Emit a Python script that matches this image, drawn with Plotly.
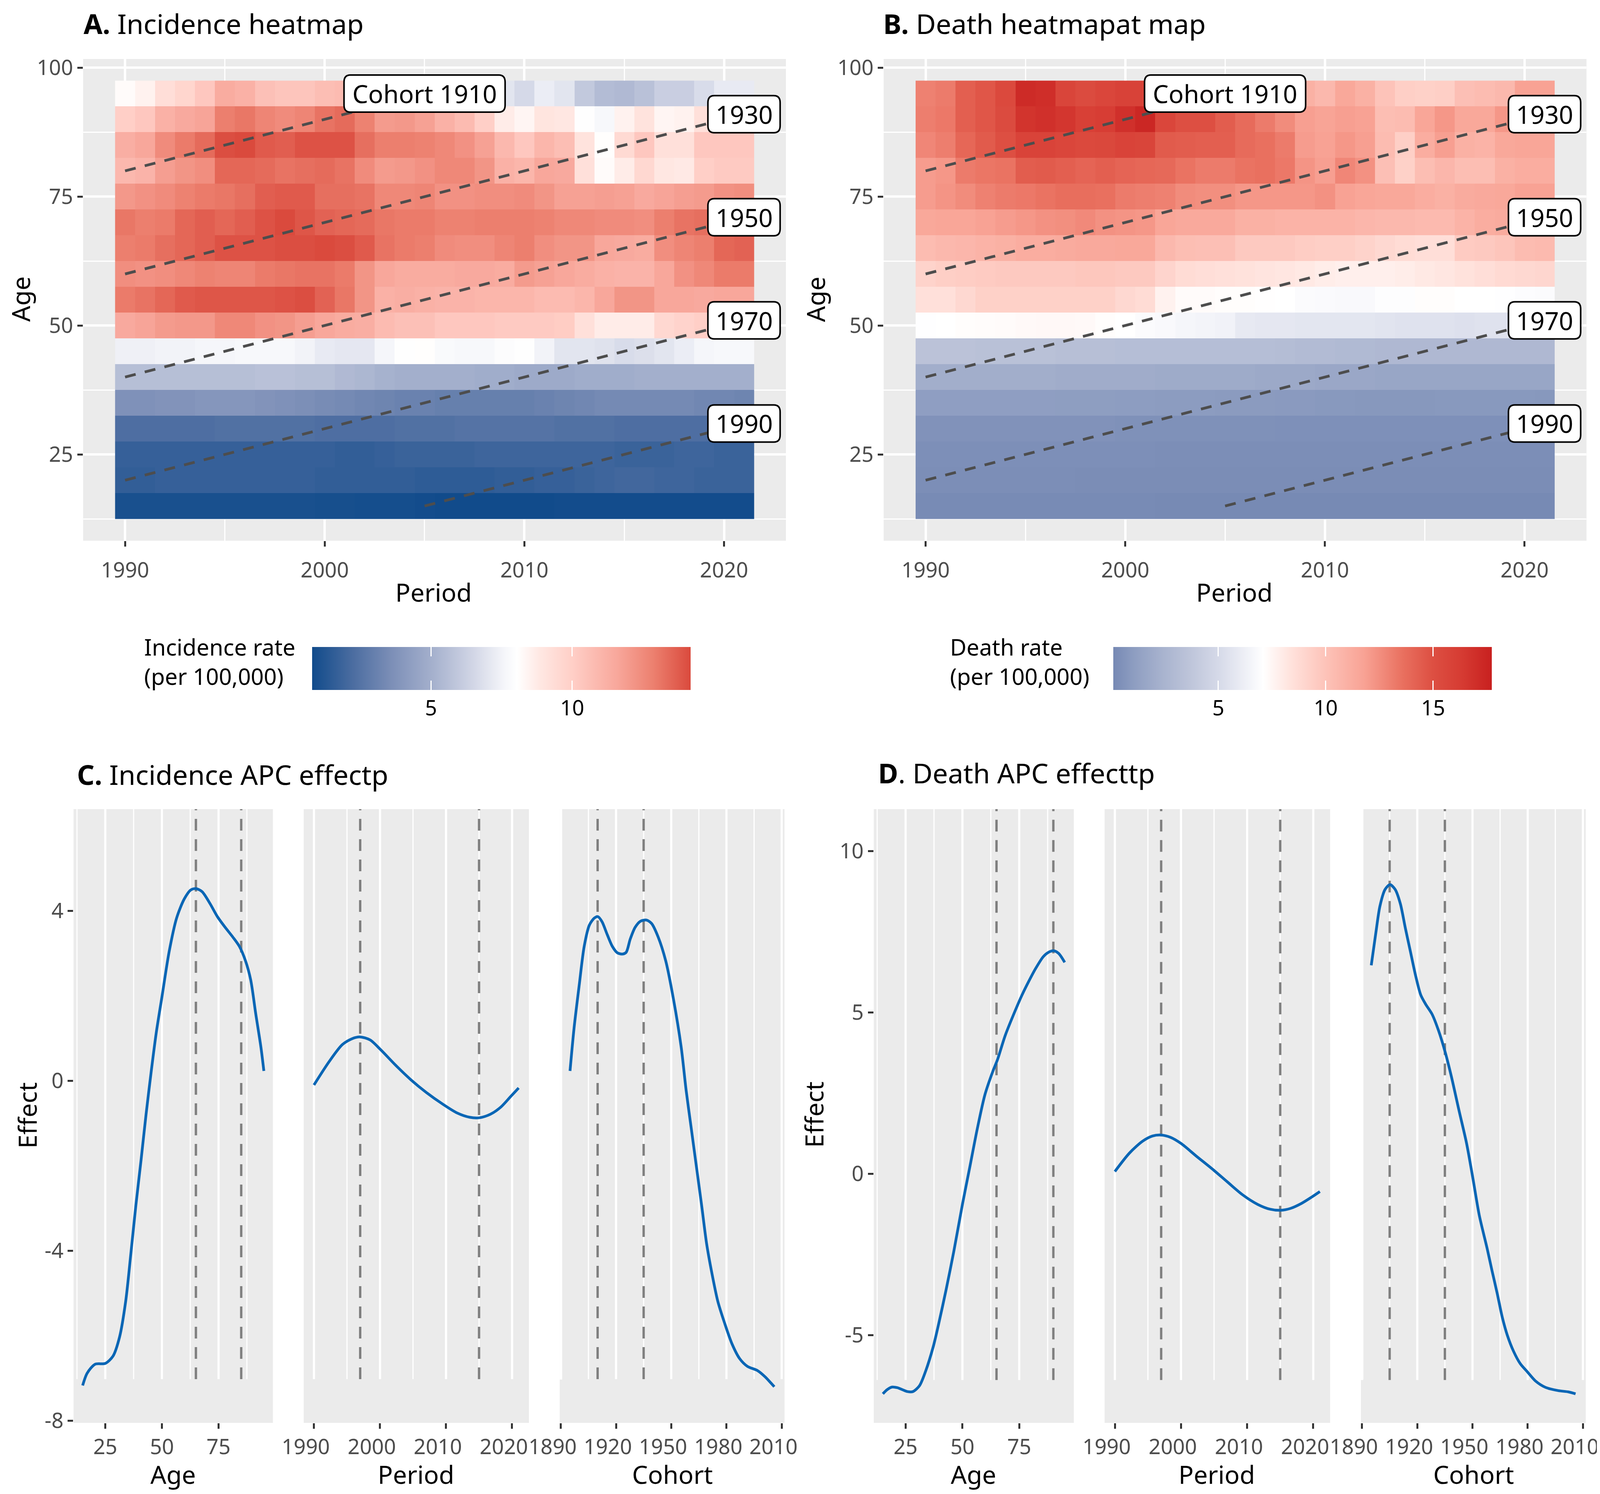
import plotly.graph_objects as go

W, H = 4519, 3824
FONT = "Noto Sans"

# ---------- data ----------
periods = list(range(1990, 2022))
ages = [95, 90, 85, 80, 75, 70, 65, 60, 55, 50, 45, 40, 35, 30, 25, 20, 15]

incidence_rows = [
 [8.2,8.5,9.3,9.7,10.3,11.4,11.2,10.6,10.4,10.4,10.7,10.8,10.8,10.5,10.0,8.5,
  7.6,7.4,7.2,7.0,6.6,7.3,7.0,6.0,5.5,5.4,5.7,6.2,6.2,6.7,7.2,7.2],
 [10.0,10.3,11.2,11.5,11.7,12.9,13.1,12.7,12.5,12.7,13.2,13.4,12.8,12.0,12.1,11.8,
  11.2,10.8,10.0,8.7,8.4,9.0,8.9,8.0,7.7,8.5,9.1,8.4,8.5,9.2,9.2,9.2],
 [11.3,11.6,12.5,13.0,13.4,14.1,14.2,13.8,13.7,14.0,14.0,14.0,13.3,12.9,12.9,12.8,
  12.6,12.3,11.8,10.9,10.3,11.0,10.7,9.1,8.1,9.5,10.3,9.2,9.2,10.3,10.3,10.3],
 [10.9,11.1,11.9,12.2,12.4,13.5,13.5,13.4,13.2,13.3,13.4,13.2,12.5,12.0,12.1,12.3,
  12.6,12.6,12.2,11.2,11.0,11.6,11.5,9.2,8.2,8.7,9.6,8.9,8.8,10.0,10.2,10.2],
 [12.1,12.3,12.5,12.8,13.0,13.1,13.3,13.7,13.8,13.8,13.3,13.3,13.2,12.6,12.6,12.7,
  12.3,12.3,12.4,12.4,12.5,12.2,11.8,11.8,11.9,11.8,11.5,11.7,11.9,12.0,12.3,12.4],
 [13.1,12.9,13.0,13.5,13.7,13.5,13.7,14.0,14.2,13.9,13.6,13.5,13.4,13.1,13.0,13.0,
  12.8,12.8,12.9,12.9,12.9,12.8,12.6,12.6,12.5,12.5,12.4,12.9,13.2,13.3,13.4,13.4],
 [12.9,13.0,13.3,13.5,13.7,14.0,14.0,14.0,14.1,14.1,14.2,14.1,13.8,13.2,13.0,12.9,
  12.5,12.4,12.4,12.7,12.9,12.4,12.2,12.2,11.6,11.5,11.4,12.4,12.7,12.9,13.5,13.6],
 [12.4,12.3,12.4,12.6,12.8,12.7,12.7,13.0,13.1,13.2,13.2,13.0,12.2,11.6,11.4,11.4,
  11.4,11.5,11.5,11.4,12.0,11.8,11.6,11.4,11.2,11.1,11.1,11.6,12.3,12.6,13.0,13.0],
 [13.0,13.2,13.5,13.8,13.9,13.9,13.9,13.9,14.0,14.1,13.6,13.1,12.2,11.2,11.3,11.2,
  11.1,11.1,11.0,11.0,11.0,10.8,10.8,11.0,11.6,12.2,12.2,11.6,11.6,11.5,11.6,11.6],
 [11.5,11.7,12.0,12.1,12.1,12.6,12.6,12.3,12.2,11.9,11.6,11.4,11.3,10.8,10.6,10.6,
  10.3,10.3,10.3,10.2,10.2,10.2,10.1,9.2,8.7,8.7,8.7,9.6,9.8,10.0,10.0,10.2],
 [7.4,7.4,7.5,7.5,7.6,7.6,7.7,7.7,7.7,7.5,7.2,7.1,7.1,7.6,8.0,8.1,
  7.8,7.7,7.7,7.9,8.0,7.5,7.0,7.0,6.9,6.7,6.8,7.0,7.3,7.6,7.7,7.7],
 [5.6,5.6,5.6,5.6,5.6,5.6,5.6,5.7,5.7,5.6,5.6,5.4,5.3,5.1,5.0,5.0,
  5.0,5.0,4.9,4.9,4.8,4.8,4.8,4.9,4.9,4.9,5.0,5.0,5.0,5.0,5.0,5.0],
 [3.7,3.7,3.8,3.8,3.9,3.9,3.9,3.8,3.7,3.6,3.5,3.4,3.3,3.2,3.1,3.1,
  3.0,3.0,3.0,3.0,3.0,3.1,3.2,3.3,3.4,3.4,3.4,3.4,3.4,3.3,3.3,3.2],
 [2.3,2.3,2.3,2.3,2.3,2.4,2.4,2.4,2.4,2.4,2.3,2.3,2.3,2.3,2.4,2.4,
  2.4,2.5,2.5,2.5,2.5,2.5,2.4,2.4,2.4,2.3,2.3,2.3,2.3,2.3,2.3,2.3],
 [1.7,1.7,1.7,1.7,1.7,1.7,1.7,1.7,1.7,1.7,1.7,1.6,1.6,1.7,1.8,1.8,
  1.8,1.8,1.9,1.9,1.9,1.9,1.9,1.9,1.9,1.8,1.8,1.8,1.9,1.9,1.8,1.8],
 [1.6,1.6,1.7,1.7,1.7,1.7,1.7,1.7,1.7,1.7,1.6,1.6,1.6,1.6,1.6,1.5,
  1.5,1.5,1.5,1.6,1.6,1.7,1.7,1.8,1.9,2.0,2.0,1.9,1.9,1.8,1.8,1.8],
 [1.0,1.0,1.0,1.0,1.0,1.0,1.0,1.0,1.0,1.0,.95,.95,.9,.9,.9,.85,
  .8,.8,.8,.8,.8,.8,.85,.85,.85,.85,.85,.85,.85,.85,.85,.85],
]

death_rows = [
 [13.0,13.2,14.3,14.7,15.4,17.2,17.0,15.7,15.3,15.6,15.9,15.9,15.5,15.0,14.4,13.5,
  12.6,11.6,11.0,11.0,10.6,11.5,11.0,10.0,9.4,9.3,9.4,10.2,10.4,10.6,11.8,11.8],
 [13.1,13.3,14.3,14.7,15.3,16.7,16.9,16.6,16.0,16.2,16.9,17.4,15.6,15.0,15.0,14.4,
  13.8,13.2,12.6,11.9,11.7,11.9,11.8,10.3,10.4,11.6,12.2,11.5,11.5,12.2,12.0,12.0],
 [12.8,13.1,14.0,14.5,15.0,15.8,15.8,15.6,15.4,15.5,15.8,15.7,14.5,14.4,14.3,14.3,
  13.8,13.6,13.2,12.0,11.8,12.2,11.9,10.4,9.4,11.2,11.9,11.0,10.9,11.5,11.6,11.6],
 [12.0,12.2,13.2,13.4,13.5,14.4,14.5,14.3,14.1,14.3,14.1,14.0,13.9,13.5,13.2,13.2,
  13.5,13.6,13.3,12.3,11.9,12.8,12.4,10.2,9.3,10.3,10.7,10.3,10.3,11.0,11.2,11.2],
 [12.0,12.3,12.6,13.0,13.2,13.3,13.5,13.7,13.7,13.6,13.2,13.1,13.0,12.6,12.5,12.5,
  12.2,12.2,12.2,12.2,12.4,11.8,11.6,11.5,11.5,11.2,11.0,11.3,11.4,11.5,11.8,11.8],
 [11.5,11.6,11.6,11.8,12.0,12.2,12.4,12.5,12.7,12.4,12.3,12.2,11.6,11.4,11.4,11.4,
  11.0,11.0,10.9,10.9,10.9,10.9,10.7,10.6,10.6,10.5,10.5,10.9,11.2,11.3,11.5,11.5],
 [10.4,10.6,10.7,10.9,11.0,11.2,11.2,11.3,11.4,11.4,11.5,11.5,10.6,10.3,10.2,10.2,
  9.7,9.7,9.7,9.5,9.4,9.4,9.2,8.9,8.7,8.6,8.6,9.6,9.7,9.9,10.4,10.5],
 [9.2,9.4,9.5,9.6,9.7,9.7,9.7,9.7,9.8,9.8,9.7,9.7,9.1,8.7,8.6,8.5,
  8.4,8.3,8.2,8.1,7.9,7.8,7.8,7.8,7.9,8.1,8.2,8.4,8.6,8.8,8.9,9.0],
 [8.5,8.5,8.9,9.3,9.3,9.3,9.3,9.3,9.3,9.3,8.9,8.7,7.7,7.3,7.3,7.2,
  7.2,7.15,7.1,6.9,6.85,6.8,6.8,7.0,7.0,7.2,7.2,7.1,7.1,7.05,6.95,6.9],
 [7.05,7.1,7.2,7.25,7.3,7.35,7.4,7.4,7.35,7.2,7.1,6.9,6.8,6.6,6.5,6.4,
  5.9,5.8,5.8,5.7,5.7,5.7,5.7,5.6,5.5,5.5,5.5,5.4,5.5,5.5,5.6,5.6],
 [3.5,3.5,3.5,3.4,3.4,3.4,3.4,3.3,3.3,3.3,3.2,3.2,3.2,3.2,3.2,3.2,
  3.2,3.2,3.1,3.0,3.0,2.9,2.9,2.8,2.8,2.8,2.8,2.8,2.8,2.8,2.8,2.8],
 [2.1,2.1,2.1,2.1,2.1,2.1,2.1,2.0,2.0,2.0,2.0,2.0,1.9,1.9,1.9,1.9,
  1.9,1.8,1.8,1.8,1.7,1.7,1.7,1.6,1.6,1.6,1.6,1.6,1.6,1.6,1.6,1.6],
 [1.15,1.15,1.15,1.15,1.15,1.15,1.15,1.1,1.1,1.1,1.05,1.05,1.0,1.0,1.0,.95,
  .95,.95,.9,.9,.85,.85,.8,.8,.8,.8,.85,.85,.85,.85,.85,.8],
 [.55,.55,.55,.55,.55,.55,.55,.55,.55,.55,.5,.5,.5,.5,.5,.5,
  .5,.5,.45,.45,.45,.45,.45,.45,.45,.45,.45,.45,.45,.45,.45,.45],
 [.4,.4,.4,.4,.4,.4,.4,.4,.4,.4,.4,.4,.35,.35,.35,.35,
  .35,.35,.35,.35,.35,.35,.35,.35,.35,.35,.35,.35,.35,.35,.35,.35],
 [.35,.35,.35,.35,.35,.35,.35,.35,.3,.3,.3,.3,.3,.3,.3,.3,
  .3,.3,.3,.3,.3,.3,.3,.3,.3,.3,.3,.3,.3,.3,.3,.3],
 [.2,.2,.2,.2,.2,.2,.2,.2,.2,.2,.2,.2,.15,.15,.15,.15,
  .15,.15,.15,.15,.15,.15,.15,.15,.15,.15,.15,.15,.15,.15,.15,.15],
]

incidence_scale_values = [0.79, 2.2, 3.66, 5, 6.5, 7.6, 8.05, 8.85, 10, 11.6, 12.9, 14.2]
incidence_scale_colors = ["#114B8B", "#4A6CA0", "#7E90B8", "#A3AFCC", "#D2D6E6", "#F5F6FA", "#FFFFFF",
                          "#FFE8E3", "#FFCFC7", "#F8A79B", "#EC7F6E", "#DA4A3D"]
death_scale_values = [0.12, 1.0, 2.35, 3.7, 5, 6.5, 7.1, 8.4, 10, 11.8, 13.6, 15, 16.3, 17.74]
death_scale_colors = ["#7689B4", "#8C9CC0", "#A7B2CE", "#BEC5DA", "#D5D9E8", "#F3F4F9", "#FFFFFF",
                      "#FFE2DC", "#FDC3B9", "#F8A294", "#E9705F", "#DD4F42", "#D63C33", "#C8201F"]

cohort_names = [1910, 1930, 1950, 1970, 1990]
cohort_start = [1990, 1990, 1990, 1990, 2005]
cohort_end = [2005, 2021, 2021, 2021, 2021]

c_age_x = [15,17,20.5,25,28.4,31.3,34,36.3,38.5,40.8,43,45.3,47.5,50,53.2,56.5,59.9,62.8,65,67.7,71.2,74.5,77.9,81.3,84.2,86.9,89.2,91.4,93.7,95]
c_age_y = [-7.17,-6.88,-6.67,-6.65,-6.48,-6.03,-5.19,-4.06,-2.93,-1.86,-0.79,0.23,1.13,1.97,3.04,3.83,4.28,4.49,4.52,4.45,4.17,3.86,3.61,3.38,3.16,2.82,2.37,1.58,0.79,0.23]
c_period_x = [1990,1992.3,1994.3,1995.8,1997,1998.5,2000.1,2002.4,2004.7,2007.05,2009.4,2011.7,2013.6,2015.1,2016.7,2018.3,2019.8,2021]
c_period_y = [-0.10,0.45,0.85,0.99,1.03,0.96,0.73,0.36,0.02,-0.28,-0.54,-0.76,-0.86,-0.87,-0.79,-0.62,-0.37,-0.17]
c_cohort_x = [1895,1897.2,1900,1902.7,1905.5,1908.3,1910.2,1912.4,1915.2,1918,1920.7,1923.5,1925.5,1927.7,1930.4,1933.2,1936.5,1939.3,1942.9,1947,1951.2,1955.4,1958.1,1960.9,1963.7,1966.5,1969.2,1972,1975.3,1978.9,1983.1,1987.2,1991.4,1996.9,2001.1,2003.9,2006]
c_cohort_y = [0.23,1.24,2.25,3.16,3.66,3.83,3.86,3.74,3.44,3.16,3.01,2.98,3.02,3.33,3.61,3.75,3.78,3.70,3.38,2.82,1.92,0.79,-0.23,-1.13,-2.03,-2.93,-3.83,-4.51,-5.19,-5.69,-6.2,-6.54,-6.72,-6.82,-6.97,-7.1,-7.2]

d_age_x = [15,16.9,19.1,21.4,23.6,25.9,28.2,31.1,33.8,37.2,39.4,42.8,46.2,50,53.2,56.5,59.9,63.3,65.5,68.9,75.7,78.8,82.2,85.6,87.8,90.1,92.3,95]
d_age_y = [-6.82,-6.69,-6.61,-6.63,-6.69,-6.75,-6.75,-6.57,-6.12,-5.35,-4.7,-3.6,-2.41,-0.95,0.19,1.38,2.45,3.16,3.55,4.3,5.46,5.91,6.36,6.73,6.86,6.91,6.83,6.55]
d_period_x = [1990,1992.2,1994.2,1995.7,1997,1998.4,2000,2002.3,2004.6,2007,2009.3,2011.6,2013.5,2015.1,2016.6,2018.2,2019.7,2021]
d_period_y = [0.07,0.64,1.01,1.17,1.20,1.13,0.94,0.55,0.17,-0.25,-0.65,-0.95,-1.10,-1.13,-1.07,-0.92,-0.73,-0.55]
d_cohort_x = [1895,1897.5,1899.7,1902.5,1905.2,1908,1910.8,1913.5,1916.3,1919.1,1921.9,1924.6,1928,1931.6,1935.2,1938.5,1942.6,1946.8,1950.1,1953.7,1957.9,1960.6,1963.4,1966.2,1968.9,1972.3,1975.9,1980,1984.2,1989.7,1996.6,2002.2,2006]
d_cohort_y = [6.46,7.47,8.29,8.81,8.96,8.81,8.37,7.62,6.88,6.14,5.54,5.25,4.95,4.43,3.76,3.02,1.98,0.94,-0.1,-1.29,-2.3,-3.0,-3.7,-4.45,-5.0,-5.5,-5.88,-6.15,-6.42,-6.62,-6.72,-6.76,-6.82]

c_vlines = [[65, 85], [1997, 2015], [1910, 1935]]
d_vlines = [[65, 90], [1997, 2015], [1905, 1935]]

age_ticks = [25, 50, 75]
age_minor = [12.5, 37.5, 62.5, 87.5]
period_ticks = [1990, 2000, 2010, 2020]
period_minor = [1995, 2005, 2015]
cohort_ticks = [1890, 1920, 1950, 1980, 2010]
cohort_minor = [1905, 1935, 1965, 1995]
c_effect_ticks = [4, 0, -4, -8]
d_effect_ticks = [10, 5, 0, -5]

# ---------- helpers ----------
def fx(p): return p / W
def fy(p): return 1 - p / H

def colorscale(vals, cols):
    lo, hi = vals[0], vals[-1]
    return [[(v - lo) / (hi - lo), c] for v, c in zip(vals, cols)]

GREY = "#EBEBEB"
TICKC = "#333333"
TICKFONT = dict(family=FONT, size=54, color="#4D4D4D")
CLEAR = "rgba(0,0,0,0)"

fig = go.Figure()
layout = dict(
    autosize=True, margin=dict(l=0, r=0, t=0, b=0, autoexpand=False), paper_bgcolor="white",
    plot_bgcolor=GREY, showlegend=False, font=dict(family=FONT),
)
shapes, annots = [], []

def axis(dom, rng, tickvals, minor=None, grid=True, labels=True, anchor=None, ticks=True, shift=0, standoff=0):
    d = dict(domain=dom, range=rng, tickmode="array", tickvals=tickvals, ticktext=[str(v) for v in tickvals],
             automargin=False, showgrid=grid, gridcolor="white", gridwidth=5.5, zeroline=False, showline=False,
             ticks="outside" if ticks else "", ticklen=14, tickwidth=5, tickcolor=TICKC,
             showticklabels=labels, tickfont=TICKFONT, anchor=anchor, layer="below traces",
             ticklabeloverflow="allow")
    if shift:
        d["ticklabelshift"] = shift
    if standoff:
        d["ticklabelstandoff"] = standoff
    if minor:
        d["minor"] = dict(tickmode="array", tickvals=minor, showgrid=True, gridcolor="white", gridwidth=3, ticks="")
    return d

def text(x, y, s, size, color="black", anchor="center", angle=0, align="center"):
    annots.append(dict(x=fx(x), y=fy(y), xref="paper", yref="paper", text=s, showarrow=False,
                       font=dict(family=FONT, size=size, color=color), xanchor=anchor, yanchor="middle",
                       textangle=angle, align=align))

def rounded_box(cx, cy, w, h, r=18):
    x0, x1, y0, y1 = cx - w / 2, cx + w / 2, cy - h / 2, cy + h / 2
    pts = [("M", x0 + r, y0), ("L", x1 - r, y0), ("Q", x1, y0, x1, y0 + r), ("L", x1, y1 - r),
           ("Q", x1, y1, x1 - r, y1), ("L", x0 + r, y1), ("Q", x0, y1, x0, y1 - r), ("L", x0, y0 + r),
           ("Q", x0, y0, x0 + r, y0)]
    s = ""
    for p in pts:
        c = p[0]; v = p[1:]
        s += c + " ".join(f"{fx(v[i]):.6f},{fy(v[i+1]):.6f}" for i in range(0, len(v), 2)) + " "
    return s + "Z"

HM_X = [1987.9, 2023.1]
HM_Y = [8.26, 101.7]
HM_TOP, HM_BOT = 143, 1376

def heat_panel(idx, left, right, rows, vals, cols, cb_left, tick_vals):
    sfx = "" if idx == 1 else str(idx)
    ax, ay = f"xaxis{sfx}", f"yaxis{sfx}"
    xa, ya = f"x{sfx}", f"y{sfx}"
    layout[ax] = axis([fx(left), fx(right)], HM_X, period_ticks, period_minor, anchor=ya, standoff=14)
    layout[ay] = axis([fy(HM_BOT), fy(HM_TOP)], HM_Y, [25, 50, 75, 100], [12.5, 37.5, 62.5, 87.5], anchor=xa)
    cscale = colorscale(vals, cols)
    cb = dict(orientation="h", lenmode="fraction", len=1069 / W, thicknessmode="pixels", thickness=110,
              x=fx(cb_left), xanchor="left", y=fy(1648), yanchor="top", xpad=0, ypad=0, outlinewidth=0,
              ticks="inside", ticklen=24, tickwidth=3, tickcolor="white", tickmode="array", tickvals=tick_vals,
              tickfont=dict(family=FONT, size=54, color="black"))
    fig.add_trace(go.Heatmap(x=periods, y=ages, z=rows, zmin=vals[0], zmax=vals[-1], colorscale=cscale,
                             xaxis=xa, yaxis=ya, colorbar=cb, showscale=True, hoverinfo="skip"))
    # clear copy of the scale: a thin bar that adds the short tick stubs along the top edge of the bar
    cb_top = dict(orientation="h", lenmode="fraction", len=1069 / W, thicknessmode="pixels", thickness=24,
                  x=fx(cb_left), xanchor="left", y=fy(1648), yanchor="top", xpad=0, ypad=0, outlinewidth=0,
                  ticks="inside", ticklen=24, tickwidth=3, tickcolor="white", tickmode="array", tickvals=tick_vals,
                  ticktext=[" " for _ in tick_vals], tickfont=dict(family=FONT, size=10, color=CLEAR))
    fig.add_trace(go.Heatmap(x=periods[:1], y=ages[:1], z=[rows[0][:1]], zmin=vals[0], zmax=vals[-1],
                             colorscale=[[0, CLEAR], [1, CLEAR]], xaxis=xa, yaxis=ya, colorbar=cb_top,
                             showscale=True, hoverinfo="skip"))
    for name, s, e in zip(cohort_names, cohort_start, cohort_end):
        fig.add_trace(go.Scatter(x=[s, e], y=[s - name, e - name], mode="lines", xaxis=xa, yaxis=ya,
                                 line=dict(color="#4D4D4D", width=7, dash="28px,24px"), hoverinfo="skip"))
        sx = (right - left) / (HM_X[1] - HM_X[0])
        sy = (HM_BOT - HM_TOP) / (HM_Y[1] - HM_Y[0])
        lab_x, lab_y = (2005, 95) if name == 1910 else (2021, e - name)
        cx = left + (lab_x - HM_X[0]) * sx
        cy = HM_TOP + (HM_Y[1] - lab_y) * sy
        label = "Cohort 1910" if name == 1910 else str(name)
        bw = 455 if name == 1910 else 204
        shapes.append(dict(type="path", path=rounded_box(cx, cy, bw, 95), xref="paper", yref="paper",
                           fillcolor="white", line=dict(color="black", width=4), layer="above"))
        annots.append(dict(x=lab_x, y=lab_y, xref=xa, yref=ya, text=label, showarrow=False,
                           font=dict(family=FONT, size=64, color="black"), xanchor="center", yanchor="middle"))

heat_panel(1, 226, 2211, incidence_rows, incidence_scale_values, incidence_scale_colors, 873, [5, 10])
heat_panel(2, 2487, 4472, death_rows, death_scale_values, death_scale_colors, 3136, [5, 10, 15])

# ---------- line panels ----------
LP_TOP, LP_BOT = 2063, 3634
def line_row(start, yrange, yticks, strip, curves, vlines, doms):
    rngs = [[11, 99], [1988.45, 2022.55], [1889.4, 2011.55]]
    ticks = [age_ticks, period_ticks, cohort_ticks]
    minors = [age_minor, period_minor, cohort_minor]
    shifts = [0, -21, -21]
    for k in range(3):
        i = start + k
        xa, ya = f"x{i}", f"y{i}"
        layout[f"xaxis{i}"] = axis([fx(doms[k][0]), fx(doms[k][1])], rngs[k], ticks[k], None, grid=False,
                                   anchor=ya, shift=shifts[k])
        layout[f"yaxis{i}"] = axis([fy(LP_BOT), fy(LP_TOP)], yrange, yticks, grid=False, anchor=xa,
                                   labels=(k == 0), ticks=(k == 0))
        for v, wd in [(g, 5.5) for g in ticks[k]] + [(g, 3) for g in minors[k]]:
            shapes.append(dict(type="line", xref=xa, yref=ya, x0=v, x1=v, y0=strip, y1=yrange[1],
                               line=dict(color="white", width=wd), layer="below"))
        for v in vlines[k]:
            fig.add_trace(go.Scatter(x=[v, v], y=[strip, yrange[1]], mode="lines", xaxis=xa, yaxis=ya,
                                     line=dict(color="#7F7F7F", width=6, dash="30px,22px"), hoverinfo="skip"))
        fig.add_trace(go.Scatter(x=curves[k][0], y=curves[k][1], mode="lines", xaxis=xa, yaxis=ya,
                                 line=dict(color="#0A66B5", width=7, shape="spline", smoothing=0.8), hoverinfo="skip"))
    shapes.append(dict(type="rect", xref="paper", yref="paper", x0=fx(doms[2][0]), x1=fx(doms[2][0] + 7),
                       y0=fy(3523), y1=fy(LP_TOP), fillcolor="white", line=dict(width=0), layer="above"))

line_row(3, [-8.05, 6.39], c_effect_ticks, -7.02,
         [(c_age_x, c_age_y), (c_period_x, c_period_y), (c_cohort_x, c_cohort_y)], c_vlines,
         [(199, 762), (849, 1485), (1572, 2207)])
line_row(6, [-7.72, 11.3], d_effect_ticks, -6.39,
         [(d_age_x, d_age_y), (d_period_x, d_period_y), (d_cohort_x, d_cohort_y)], d_vlines,
         [(2459, 3024), (3111, 3748), (3835, 4470)])

# ---------- text ----------
TS = 70
text(225, 52, "<b>A.</b> Incidence heatmap", TS, anchor="left")
text(2484, 52, "<b>B.</b> Death heatmapat map", TS, anchor="left")
text(206, 1974, "<b>C.</b> Incidence APC effectp", TS, anchor="left")
text(2469, 1970, "<b>D</b>. Death APC effecttp", TS, anchor="left")
AT = 64
text(1216, 1507, "Period", AT); text(3478, 1507, "Period", AT)
text(48, 758, "Age", AT, angle=-90); text(2294, 758, "Age", AT, angle=-90)
text(67, 2847, "Effect", AT, angle=-90); text(2289, 2845, "Effect", AT, angle=-90)
for xs, ys in [((480, 1166, 1891), 3765), ((2741, 3428, 4153), 3765)]:
    for x, s in zip(xs, ("Age", "Period", "Cohort")):
        text(x, ys, s, AT)
text(396, 1685, "Incidence rate<br>(per 100,000)", 58, anchor="left", align="left")
text(2672, 1685, "Death rate<br>(per 100,000)", 58, anchor="left", align="left")

layout["shapes"] = shapes
layout["annotations"] = annots
fig.update_layout(**layout)
fig.write_html("out.html", default_width="100vw", default_height="100vh")
